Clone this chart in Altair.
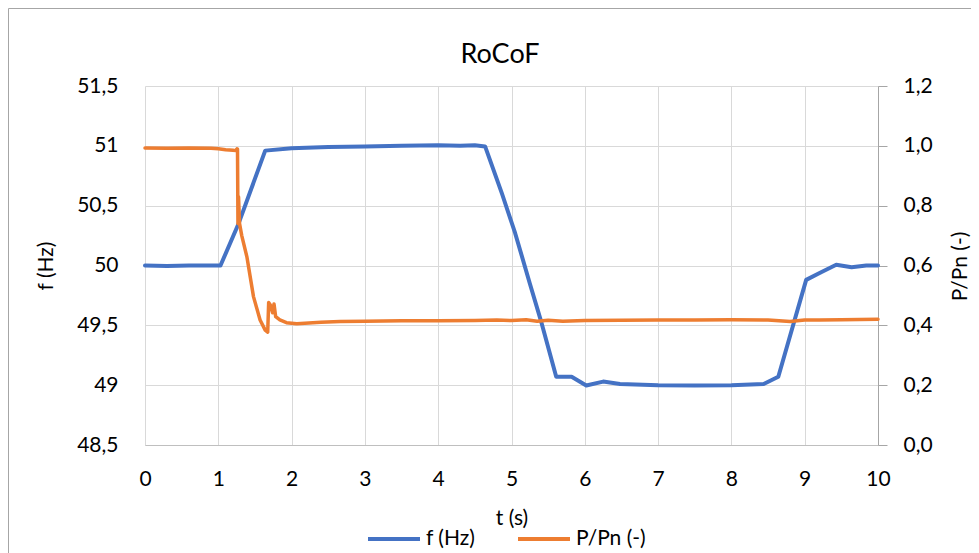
import altair as alt
import pandas as pd

# ---- data ----
t_f = [0, 0.3, 0.6, 1.0, 1.03, 1.27, 1.64, 2.0, 2.5, 3.0, 3.5, 4.0, 4.3, 4.5, 4.64,
       4.87, 5.05, 5.25, 5.41, 5.61, 5.82, 6.02, 6.25, 6.48, 7.0, 7.5, 8.0, 8.44,
       8.64, 9.02, 9.21, 9.43, 9.64, 9.84, 10.0]
f_hz = [50.0, 49.995, 50.0, 50.0, 50.0, 50.34, 50.96, 50.98, 50.99, 50.995, 51.0,
        51.005, 51.0, 51.005, 50.995, 50.60, 50.27, 49.85, 49.52, 49.07, 49.07,
        48.997, 49.03, 49.01, 49.0, 48.998, 49.0, 49.01, 49.07, 49.88, 49.94,
        50.006, 49.986, 50.0, 50.0]

t_p = [0, 0.3, 0.6, 0.9, 1.0, 1.1, 1.2, 1.24, 1.255, 1.262, 1.268, 1.276, 1.29,
       1.32, 1.39, 1.48, 1.57, 1.64, 1.674, 1.687, 1.71, 1.741, 1.76, 1.783, 1.84,
       1.93, 2.07, 2.4, 2.66, 3.0, 3.5, 4.0, 4.5, 4.8, 5.0, 5.2, 5.35, 5.5, 5.7,
       6.0, 6.5, 7.0, 7.5, 8.0, 8.5, 8.8, 9.0, 9.2, 9.5, 10.0]
p_pn = [0.993, 0.992, 0.993, 0.992, 0.99, 0.987, 0.985, 0.984, 0.99, 0.989, 0.74,
        0.83, 0.74, 0.70, 0.629, 0.496, 0.418, 0.384, 0.377, 0.476, 0.468, 0.442,
        0.471, 0.429, 0.418, 0.409, 0.405, 0.41, 0.413, 0.414, 0.415, 0.415, 0.416,
        0.418, 0.416, 0.419, 0.414, 0.417, 0.414, 0.416, 0.417, 0.418, 0.418,
        0.419, 0.418, 0.413, 0.418, 0.418, 0.419, 0.42]

series_names = ["f (Hz)", "P/Pn (-)"]
series_colors = ["#4472C4", "#ED7D31"]
chart_title = "RoCoF"
x_ticks = list(range(0, 11))
f_ticks = [48.5, 49.0, 49.5, 50.0, 50.5, 51.0, 51.5]
p_ticks = [0.0, 0.2, 0.4, 0.6, 0.8, 1.0, 1.2]

df_f = pd.DataFrame({"t": t_f, "v": f_hz, "series": series_names[0]})
df_p = pd.DataFrame({"t": t_p, "v": p_pn, "series": series_names[1]})

FONT = "Lato"
W, H = 733, 359

color = alt.Color(
    "series:N",
    scale=alt.Scale(domain=series_names, range=series_colors),
    legend=alt.Legend(
        orient="none", legendX=221, legendY=425, direction="horizontal",
        title=None, symbolType="stroke", symbolSize=2704, symbolStrokeWidth=4,
        labelFont=FONT, labelFontSize=21, labelColor="#000000",
        columnPadding=34, labelOffset=4,
    ),
)

x_enc = alt.X(
    "t:Q",
    scale=alt.Scale(domain=[0, 10], nice=False),
    axis=alt.Axis(
        values=x_ticks, format="d", title="t (s)", grid=True, gridColor="#d9d9d9",
        domain=True, domainColor="#bfbfbf", ticks=False, tickSize=0,
        labelPadding=23, labelFlush=False, labelFont=FONT, labelFontSize=21,
        labelColor="#000000",
        titleFont=FONT, titleFontSize=21, titleFontWeight="normal",
        titleColor="#000000", titleX=366.5, titleY=73, titleBaseline="middle",
    ),
)

left = alt.Chart(df_f).mark_line(strokeWidth=4, strokeJoin="round", strokeCap="round").encode(
    x=x_enc,
    y=alt.Y(
        "v:Q",
        scale=alt.Scale(domain=[48.5, 51.5], nice=False, zero=False),
        axis=alt.Axis(
            orient="left", values=f_ticks, title="f (Hz)", grid=True,
            gridColor="#d9d9d9", domain=False, ticks=False, tickSize=0,
            labelPadding=27, labelFlush=False,
            labelExpr="replace(format(datum.value, '.1~f'), '.', ',')",
            labelFont=FONT, labelFontSize=21, labelColor="#000000",
            titleFont=FONT, titleFontSize=21, titleFontWeight="normal",
            titleColor="#000000", titleX=-99, titleY=179.5,
            titleBaseline="middle", titleAngle=270,
        ),
    ),
    color=color,
)

right = alt.Chart(df_p).mark_line(strokeWidth=3.5, strokeJoin="round", strokeCap="round").encode(
    x=alt.X("t:Q"),
    y=alt.Y(
        "v:Q",
        scale=alt.Scale(domain=[0, 1.2], nice=False),
        axis=alt.Axis(
            orient="right", values=p_ticks, title="P/Pn (-)", grid=False,
            domain=True, domainColor="#a6a6a6", ticks=True, tickColor="#a6a6a6",
            tickSize=9, labelPadding=16, labelFlush=False,
            labelExpr="replace(format(datum.value, '.1f'), '.', ',')",
            labelFont=FONT, labelFontSize=21, labelColor="#000000",
            titleFont=FONT, titleFontSize=21, titleFontWeight="normal",
            titleColor="#000000", titleX=82, titleY=180,
            titleBaseline="middle", titleAngle=270,
        ),
    ),
    color=color,
)

one = pd.DataFrame({"label": [chart_title]})

border = alt.Chart(one).mark_rect(
    fillOpacity=0, stroke="#a6a6a6", strokeWidth=1
).encode(
    x=alt.value(-136.5), x2=alt.value(900), y=alt.value(-77.5), y2=alt.value(600)
)

title_mark = alt.Chart(one).mark_text(
    font=FONT, fontSize=27, color="#000000", align="center", baseline="alphabetic"
).encode(
    text="label:N", x=alt.value(355), y=alt.value(-23)
)

chart = alt.layer(border, title_mark, left, right).resolve_scale(y="independent").properties(
    width=W, height=H,
    autosize=alt.AutoSizeParams(type="none"),
    padding={"left": 137, "top": 78, "right": 93, "bottom": 108},
).configure_view(stroke=None)

chart.save("out.html", embed_options={"renderer": "svg", "actions": False})
